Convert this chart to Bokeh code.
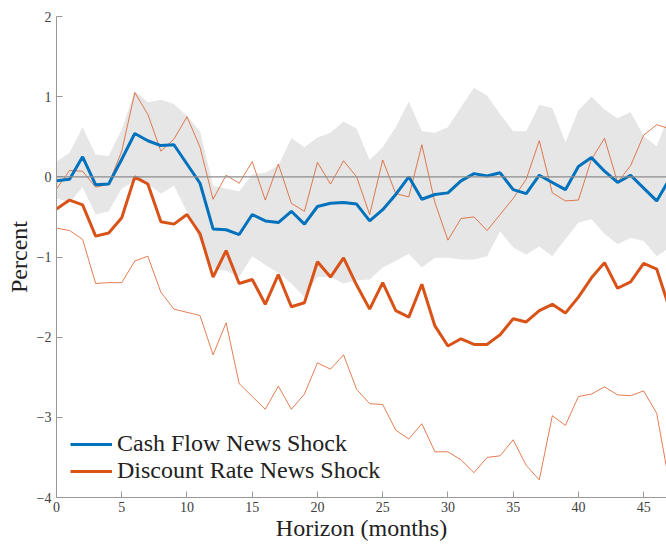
from bokeh.plotting import figure
from bokeh.models import Range1d, FixedTicker, Legend, LegendItem, Span
from bokeh.embed import file_html
from bokeh.resources import INLINE

horizon = list(range(48))
cash_flow = [-0.05, -0.03, 0.25, -0.10, -0.09, 0.22, 0.54, 0.45, 0.39, 0.40,
             0.16, -0.08, -0.65, -0.66, -0.72, -0.47, -0.55, -0.57, -0.43, -0.59,
             -0.37, -0.33, -0.32, -0.34, -0.55, -0.41, -0.22, 0.00, -0.28, -0.22,
             -0.20, -0.05, 0.04, 0.01, 0.05, -0.16, -0.21, 0.02, -0.07, -0.16,
             0.13, 0.24, 0.07, -0.07, 0.02, -0.14, -0.30, -0.02]
cash_flow_upper = [0.19, 0.30, 0.62, 0.28, 0.26, 0.59, 1.07, 0.93, 0.96, 0.91,
                   0.76, 0.57, -0.11, -0.15, -0.18, 0.03, 0.05, 0.14, 0.48, 0.37,
                   0.49, 0.55, 0.69, 0.60, 0.21, 0.37, 0.62, 0.94, 0.57, 0.55,
                   0.62, 0.87, 1.11, 1.01, 0.78, 0.57, 0.57, 0.90, 0.86, 0.43,
                   0.83, 1.00, 0.84, 0.73, 0.81, 0.51, 0.38, 0.80]
cash_flow_lower = [-0.27, -0.32, -0.13, -0.47, -0.43, -0.15, -0.05, -0.09, -0.21, -0.11,
                   -0.44, -0.80, -1.15, -1.17, -1.25, -0.99, -1.10, -1.20, -1.33, -1.50,
                   -1.25, -1.25, -1.33, -1.29, -1.28, -1.13, -1.05, -0.96, -1.13, -1.01,
                   -1.01, -1.03, -1.03, -0.99, -0.68, -0.88, -0.97, -0.87, -0.99, -0.78,
                   -0.57, -0.53, -0.71, -0.84, -0.76, -0.80, -0.99, -0.88]
discount = [-0.40, -0.29, -0.35, -0.74, -0.70, -0.51, 0.00, -0.09, -0.56, -0.59,
            -0.47, -0.71, -1.25, -0.92, -1.33, -1.28, -1.59, -1.22, -1.62, -1.57,
            -1.06, -1.25, -1.01, -1.35, -1.65, -1.32, -1.67, -1.75, -1.34, -1.86,
            -2.11, -2.02, -2.09, -2.09, -1.97, -1.77, -1.81, -1.67, -1.59, -1.70,
            -1.50, -1.26, -1.07, -1.39, -1.31, -1.08, -1.15, -1.65]
discount_upper = [-0.15, 0.08, 0.07, -0.13, -0.09, 0.32, 1.05, 0.78, 0.32, 0.47,
                  0.75, 0.37, -0.28, 0.02, -0.08, 0.19, -0.29, 0.16, -0.33, -0.43,
                  0.18, -0.09, 0.20, 0.00, -0.47, 0.21, -0.21, -0.25, 0.40, -0.32,
                  -0.79, -0.52, -0.50, -0.67, -0.47, -0.27, -0.03, 0.45, -0.20, -0.30,
                  -0.29, 0.22, 0.48, -0.07, 0.14, 0.52, 0.65, 0.60]
discount_lower = [-0.64, -0.67, -0.78, -1.33, -1.32, -1.32, -1.05, -0.99, -1.44, -1.65,
                  -1.69, -1.73, -2.22, -1.82, -2.58, -2.74, -2.90, -2.61, -2.90, -2.71,
                  -2.32, -2.40, -2.22, -2.65, -2.83, -2.84, -3.16, -3.27, -3.08, -3.43,
                  -3.43, -3.53, -3.69, -3.50, -3.48, -3.28, -3.60, -3.78, -2.98, -3.10,
                  -2.74, -2.71, -2.62, -2.72, -2.73, -2.67, -2.95, -3.85]
x_ticks = [0, 5, 10, 15, 20, 25, 30, 35, 40, 45]
y_ticks = [-4, -3, -2, -1, 0, 1, 2]

BLUE = "#0072BD"
ORANGE = "#D95319"
FONT = "Liberation Serif"

p = figure(width=666, height=546, output_backend="svg", toolbar_location=None,
           x_range=Range1d(0, 46.75), y_range=Range1d(-4, 2),
           min_border_left=56, min_border_right=0, min_border_top=16, min_border_bottom=49)
p.outline_line_color = None
p.grid.visible = False
p.background_fill_color = "white"

p.varea(x=horizon, y1=cash_flow_lower, y2=cash_flow_upper, fill_color="#E6E6E6")
p.add_layout(Span(location=0, dimension="width", line_color="#8C8C8C", line_width=1.2))
p.line(horizon, discount_upper, line_color=ORANGE, line_alpha=0.75, line_width=1)
p.line(horizon, discount_lower, line_color=ORANGE, line_alpha=0.75, line_width=1)
r_cf = p.line(horizon, cash_flow, line_color=BLUE, line_width=3)
r_dr = p.line(horizon, discount, line_color=ORANGE, line_width=3)

for ax in (p.xaxis[0], p.yaxis[0]):
    ax.axis_line_color = "#999999"
    ax.major_tick_line_color = "#999999"
    ax.major_tick_in = 6
    ax.major_tick_out = 0
    ax.minor_tick_line_color = None
    ax.major_label_text_font = FONT
    ax.major_label_text_font_size = "14px"
    ax.major_label_text_color = "#404040"
    ax.axis_label_text_font = FONT
    ax.axis_label_text_font_size = "24px"
    ax.axis_label_text_font_style = "normal"
    ax.axis_label_text_color = "#222222"

p.xaxis.ticker = FixedTicker(ticks=x_ticks)
p.yaxis.ticker = FixedTicker(ticks=y_ticks)
p.xaxis.axis_label = "Horizon (months)"
p.yaxis.axis_label = "Percent"
p.xaxis.axis_label_standoff = 0
p.xaxis.major_label_standoff = 4
p.yaxis.axis_label_standoff = 2
p.yaxis.major_label_standoff = 5

legend = Legend(items=[LegendItem(label="Cash Flow News Shock", renderers=[r_cf]),
                       LegendItem(label="Discount Rate News Shock", renderers=[r_dr])],
                location=(14, 13), padding=0, margin=0, spacing=0,
                glyph_width=42, glyph_height=20, label_height=20, label_standoff=5,
                label_text_font=FONT, label_text_font_size="24px",
                label_text_color="#222222",
                background_fill_alpha=0, border_line_alpha=0)
p.add_layout(legend)

open("out.html", "w").write(file_html(p, INLINE))
